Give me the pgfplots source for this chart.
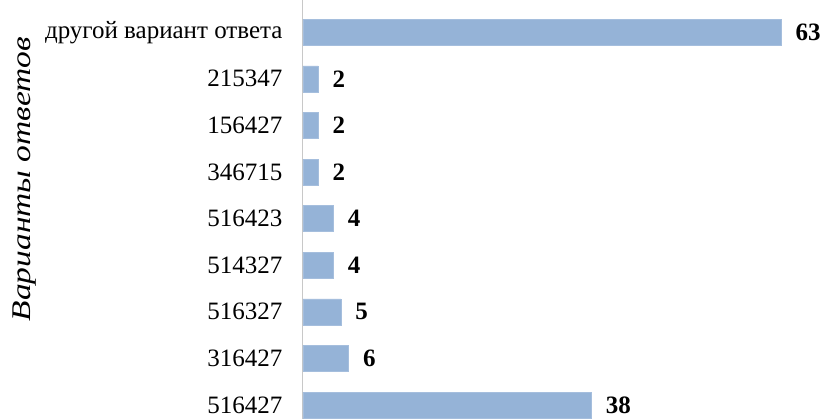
\documentclass[border=0pt]{standalone}
\usepackage{fontspec}
\setmainfont{Liberation Serif}
\usepackage{pgfplots}
\pgfplotsset{compat=1.18}
\definecolor{barblue}{RGB}{149,179,215}
\definecolor{axgray}{RGB}{200,200,200}

\begin{document}
\fontsize{25}{30}\selectfont
\begin{tikzpicture}
\begin{axis}[
    at={(0pt,0pt)}, anchor=south west,
    scale only axis,
    width=485.8pt, height=419.4pt,
    xbar,
    bar width=26pt,
    xmin=0, xmax=64,
    ymin=-0.3, ymax=8.7,
    axis x line=none,
    axis y line*=left,
    axis line style={draw=axgray, line width=1pt},
    ytick={0,...,8},
    yticklabels={516427,316427,516327,514327,516423,346715,156427,215347,другой вариант ответа},
    major tick length=0pt,
    yticklabel style={font=\fontsize{25}{30}\selectfont, xshift=-12pt},
    ylabel={Варианты ответов},
    ylabel style={at={(axis description cs:-0.573,0.572)}, anchor=center,
        font=\fontsize{27}{32}\selectfont\itshape, xscale=1.24},
    /pgf/number format/assume math mode=true,
    nodes near coords,
    nodes near coords style={font=\fontsize{25}{30}\selectfont\bfseries, anchor=west, xshift=6pt},
]
\addplot[fill=barblue, draw=barblue!85!white] coordinates {
  (38,0) (6,1) (5,2) (4,3) (4,4) (2,5) (2,6) (2,7) (63,8)
};
\end{axis}
\pgfresetboundingbox
\path[use as bounding box] (-303pt,0pt) rectangle (520pt,419pt);
\end{tikzpicture}
\end{document}
